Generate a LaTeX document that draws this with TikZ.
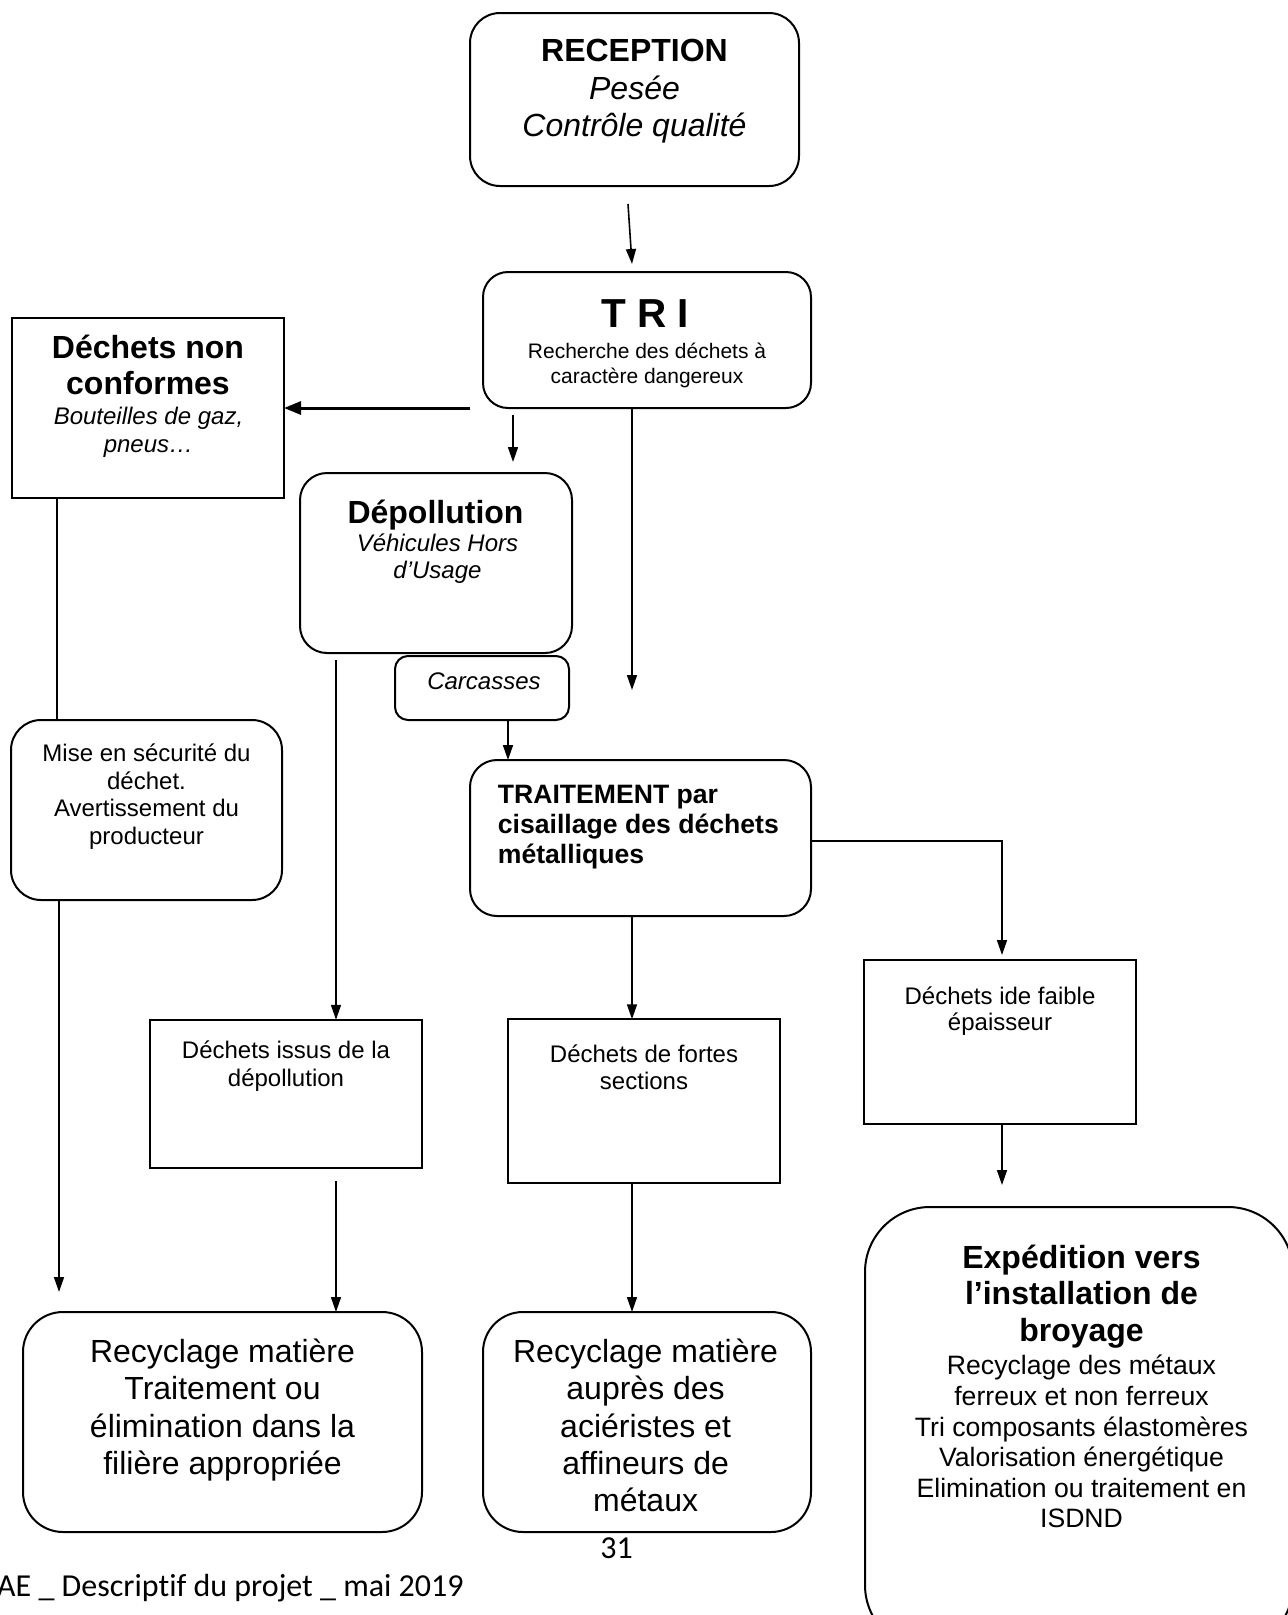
\documentclass[tikz,border=0pt]{standalone}
\usepackage{fontspec}
\setmainfont{Liberation Sans}
\newfontfamily\calib[Ligatures=NoCommon]{Carlito}
\usetikzlibrary{arrows.meta}
\newcommand\fs[2]{\fontsize{#1}{#2}\selectfont}
\begin{document}
\begin{tikzpicture}[x=1pt,y=-1pt,
  box/.style={draw, line width=2pt, inner sep=0pt, outer sep=0pt},
  rbox/.style={box, rounded corners=#1},
  txt/.style={inner sep=0pt, align=center, anchor=north},
  arr/.style={line width=1.6pt, -{Triangle[length=15pt,width=10pt]}},
  thickarr/.style={line width=3pt, -{Triangle[length=17pt,width=13pt]}},
  ln/.style={line width=1.6pt},
]
\useasboundingbox (0,0) rectangle (1288,1615);
\clip (0,0) rectangle (1288,1615);

% boxes and texts
\node[rbox=30pt, minimum width=329pt, minimum height=173pt] (rec) at (634.5,99.5) {};
\node[txt, font=\fs{32}{37.5}] (rect) at (634.5,39) {{\bfseries RECEPTION}\\{\itshape Pesée}\\{\itshape Contrôle qualité}};

\node[rbox=25pt, minimum width=328pt, minimum height=136pt] (tri) at (647,340) {};
\node[txt, font=\fs{40.5}{46}\bfseries] (trit) at (645,299) {T R I};
\node[txt, font=\fs{21}{25}] (tris) at (647,343) {Recherche des déchets à\\caractère dangereux};

\node[box, minimum width=272pt, minimum height=180pt] (dnc) at (148,408) {};
\node[txt, font=\fs{32}{36}\bfseries] (dnct) at (148,334.6) {Déchets non\\conformes};
\node[txt, font=\fs{24}{28}\itshape] (dncs) at (148.5,406.5) {Bouteilles de gaz,\\pneus…};

\node[rbox=27pt, minimum width=272pt, minimum height=180pt] (dep) at (436,563) {};
\node[txt, font=\fs{32}{36.8}\bfseries] (dept) at (435.5,499.6) {Dépollution};
\node[txt, font=\fs{24}{27}\itshape] (deps) at (437.5,533.5) {Véhicules Hors\\d’Usage};

\node[rbox=13pt, minimum width=174pt, minimum height=64pt] (car) at (482,688) {};
\node[txt, font=\fs{24}{27}\itshape] (cart) at (484,672.5) {Carcasses};

\node[rbox=30pt, minimum width=271pt, minimum height=180pt] (mise) at (146.5,810) {};
\node[txt, font=\fs{24}{27.8}] (miset) at (146.5,743.5) {Mise en sécurité du\\déchet.\\Avertissement du\\producteur};

\node[rbox=27pt, minimum width=341pt, minimum height=156pt] (trt) at (640.5,838) {};
\node[txt, anchor=north west, align=left, font=\fs{26.6}{29.8}\bfseries] (trtt) at (497.7,785) {TRAITEMENT par\\cisaillage des déchets\\métalliques};

\node[box, minimum width=272pt, minimum height=148.5pt] (issus) at (286,1094) {};
\node[txt, font=\fs{24}{28.5}] (issust) at (286,1040.5) {Déchets issus de la\\dépollution};

\node[box, minimum width=272.5pt, minimum height=163.5pt] (fortes) at (644,1101) {};
\node[txt, font=\fs{24}{27}] (fortest) at (644,1044.5) {Déchets de fortes\\sections};

\node[box, minimum width=272pt, minimum height=163.5pt] (faible) at (1000,1042) {};
\node[txt, font=\fs{24}{26.5}] (faiblet) at (1000,986.5) {Déchets ide faible\\épaisseur};

\node[rbox=65pt, minimum width=428pt, minimum height=443pt] (exp) at (1079,1428.5) {};
\node[txt, font=\fs{32}{36.8}\bfseries] (expt) at (1081.5,1244.5) {Expédition vers\\l’installation de\\broyage};
\node[txt, font=\fs{26.6}{30.6}] (exps) at (1081.5,1355) {Recyclage des métaux\\ferreux et non ferreux\\Tri composants élastomères\\Valorisation énergétique\\Elimination ou traitement en\\ISDND};

\node[rbox=40pt, minimum width=399pt, minimum height=220pt] (rec1) at (222.5,1422) {};
\node[txt, font=\fs{32}{37.4}] (rec1t) at (222.5,1338.5) {Recyclage matière\\Traitement ou\\élimination dans la\\filière appropriée};

\node[rbox=40pt, minimum width=328pt, minimum height=220pt] (rec2) at (647,1422) {};
\node[txt, font=\fs{32}{37.4}] (rec2t) at (645.6,1338.5) {Recyclage matière\\auprès des\\aciéristes et\\affineurs de\\métaux};

% footer
\node[anchor=base, inner sep=0pt, font=\calib\fs{32}{38}] (page) at (616.5,1558) {31};
\node[anchor=base west, inner sep=0pt, font=\calib\fs{32}{38}] (foot) at (-3,1596) {AE \_ Descript\kern0pt if du projet \_ mai 2019};

% connectors
\coordinate (p1) at (628,204);
\coordinate (p2) at (632,264);
\draw[arr] (p1) -- (p2);

\coordinate (p3) at (470,408);
\draw[thickarr] (p3) -- (p3 -| dnc.east);

\coordinate (p4) at (513,415);
\coordinate (p5) at (513,462);
\draw[arr] (p4) -- (p5);

\coordinate (p6) at (632,690);
\draw[arr] (tri.south -| p6) -- (p6);

\coordinate (x57) at (57,0);
\draw[ln] (dnc.south -| x57) -- (mise.north -| x57);

\coordinate (p7) at (59,1292);
\draw[arr] (mise.south -| p7) -- (p7);

\coordinate (p336) at (336,660);
\draw[arr] (p336) -- (issus.north -| p336);

\coordinate (x508) at (508,0);
\draw[arr] (car.south -| x508) -- (trt.north -| x508);

\coordinate (x632) at (632,0);
\draw[arr] (trt.south -| x632) -- (fortes.north -| x632);

\coordinate (y841) at (0,841);
\coordinate (p8) at (1002,955);
\draw[arr] (trt.east |- y841) -- (p8 |- y841) -- (p8);

\coordinate (p9) at (1002,1185);
\draw[arr] (faible.south -| p9) -- (p9);

\coordinate (p10) at (336,1181);
\draw[arr] (p10) -- (rec1.north -| p10);

\coordinate (p11) at (632,1183);
\draw[arr] (fortes.south -| p11) -- (rec2.north -| p11);
\end{tikzpicture}
\end{document}
